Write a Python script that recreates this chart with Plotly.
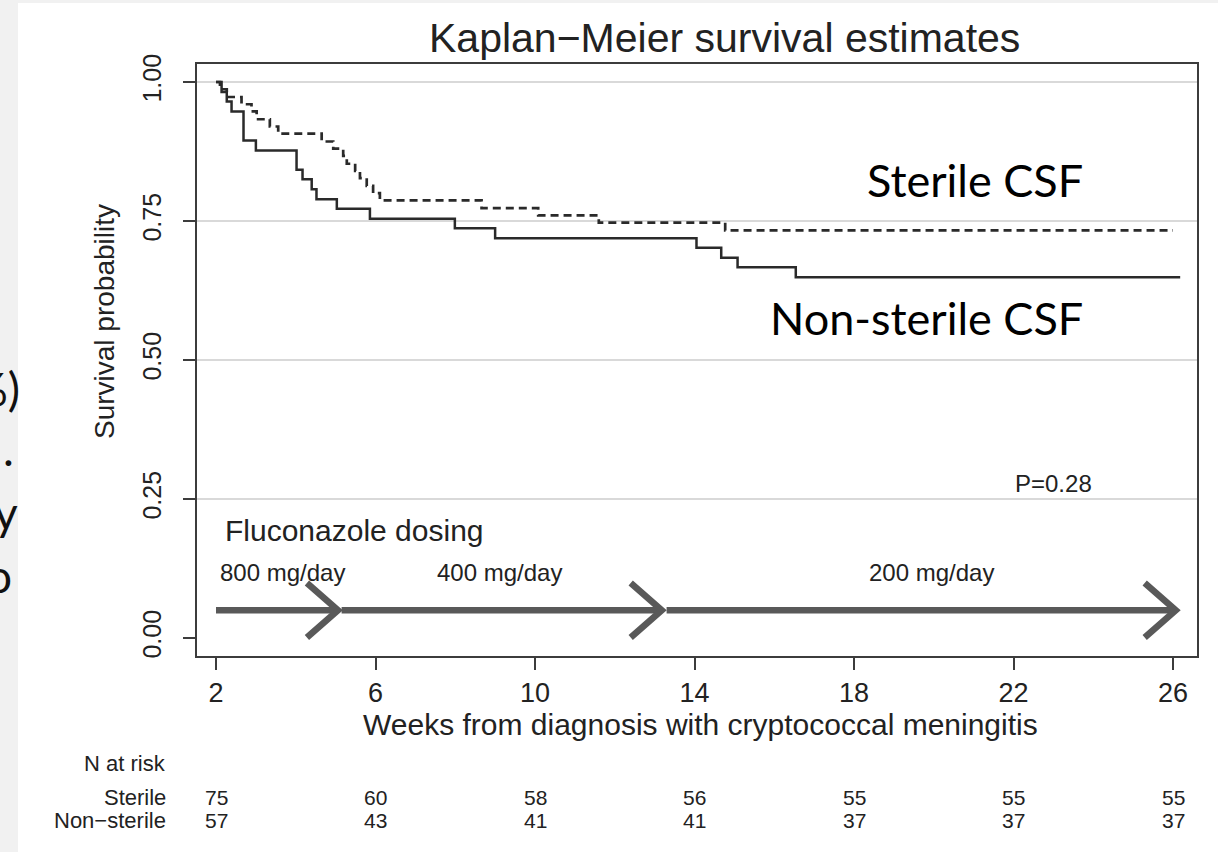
import plotly.graph_objects as go

# ---------------- data ----------------
WEEK_TICKS = [2, 6, 10, 14, 18, 22, 26]
Y_TICKS = [0.0, 0.25, 0.5, 0.75, 1.0]
Y_TICK_LABELS = ["0.00", "0.25", "0.50", "0.75", "1.00"]
GRID_VALUES = [0.25, 0.5, 0.75, 1.0]

STERILE_WEEKS = [2.0, 2.10, 2.27, 2.64, 2.89, 3.02, 3.35, 3.56, 4.65, 4.94, 5.19,
                 5.28, 5.49, 5.61, 5.78, 5.94, 6.11, 8.66, 10.08, 11.60, 14.77, 26.0]
STERILE_SURV = [1.0, 0.987, 0.973, 0.960, 0.947, 0.933, 0.920, 0.907, 0.893, 0.880, 0.867,
                0.853, 0.840, 0.827, 0.813, 0.800, 0.787, 0.773, 0.760, 0.747, 0.733, 0.733]

NONSTERILE_WEEKS = [2.0, 2.14, 2.27, 2.39, 2.69, 3.00, 4.02, 4.17, 4.40, 4.52, 5.03,
                    5.86, 7.99, 9.00, 14.05, 14.67, 15.08, 16.54, 26.18]
NONSTERILE_SURV = [1.0, 0.982, 0.965, 0.947, 0.895, 0.877, 0.842, 0.825, 0.807, 0.789, 0.772,
                   0.754, 0.737, 0.719, 0.702, 0.684, 0.667, 0.649, 0.649]

RISK_TITLE = "N at risk"
RISK_LABELS = ["Sterile", "Non\u2212sterile"]
RISK_STERILE = [75, 60, 58, 56, 55, 55, 55]
RISK_NONSTERILE = [57, 43, 41, 41, 37, 37, 37]

DOSE_TITLE = "Fluconazole dosing"
DOSE_START = [2.0, 5.15, 13.30]
DOSE_END = [5.06, 13.18, 26.07]
DOSE_LABELS = ["800 mg/day", "400 mg/day", "200 mg/day"]
DOSE_LABEL_WEEK = [3.68, 9.1, 19.95]
DOSE_LEVEL = 0.05
DOSE_LABEL_LEVEL = 0.117

P_TEXT = "P=0.28"
SIDE_FRAGMENTS = ["%)", ".", "y", "o"]

# ---------------- layout helpers ----------------
W, H = 1218, 852
L, R, T, B = 197, 1197, 64, 656
PW, PH = R - L, B - T


def xp(px):
    return (px - L) / PW


def yp(py):
    return (B - py) / PH


FONT = "Liberation Sans, Arial, sans-serif"
TXT = "#222222"
AXC = "#3c3c3c"

fig = go.Figure()

# dosing arrows (shafts and open chevrons)
HEAD_DX, HEAD_DY = 0.78, 0.049
sx, sy, hx, hy = [], [], [], []
for s, e in zip(DOSE_START, DOSE_END):
    sx += [s, e, None]
    sy += [DOSE_LEVEL, DOSE_LEVEL, None]
    hx += [e - HEAD_DX, e, e - HEAD_DX, None]
    hy += [DOSE_LEVEL + HEAD_DY, DOSE_LEVEL, DOSE_LEVEL - HEAD_DY, None]
fig.add_trace(go.Scatter(x=sx, y=sy, mode="lines", line=dict(color="#595959", width=6.5),
                         hoverinfo="skip", showlegend=False))
fig.add_trace(go.Scatter(x=hx, y=hy, mode="lines", line=dict(color="#595959", width=6.5),
                         hoverinfo="skip", showlegend=False))

# KM curves
fig.add_trace(go.Scatter(x=STERILE_WEEKS, y=STERILE_SURV, mode="lines", line_shape="hv",
                         line=dict(color="#2a2a2a", width=2.7, dash="8px,5px"),
                         name="Sterile", showlegend=False))
fig.add_trace(go.Scatter(x=NONSTERILE_WEEKS, y=NONSTERILE_SURV, mode="lines", line_shape="hv",
                         line=dict(color="#2a2a2a", width=2.5),
                         name="Non-sterile", showlegend=False))

shapes = []
# light slide background strips
shapes.append(dict(type="rect", xref="paper", yref="paper", x0=xp(-20), x1=xp(18),
                   y0=yp(H + 20), y1=yp(-20), fillcolor="#f1f1f1", line_width=0, layer="below"))
shapes.append(dict(type="rect", xref="paper", yref="paper", x0=xp(-20), x1=xp(W + 20),
                   y0=yp(3), y1=yp(-20), fillcolor="#f1f1f1", line_width=0, layer="below"))
# gridlines
for g in GRID_VALUES:
    shapes.append(dict(type="line", xref="paper", yref="y", x0=0, x1=1, y0=g, y1=g,
                       line=dict(color="#cdcdcd", width=1.6), layer="below"))

ann = []
ann.append(dict(text="Kaplan\u2212Meier survival estimates", x=xp(724), y=yp(38),
                xref="paper", yref="paper", showarrow=False, xanchor="center", yanchor="middle",
                font=dict(family=FONT, size=41, color=TXT)))
ann.append(dict(text="Weeks from diagnosis with cryptococcal meningitis", x=xp(700), y=yp(724),
                xref="paper", yref="paper", showarrow=False, xanchor="center", yanchor="middle",
                font=dict(family=FONT, size=30, color=TXT)))
ann.append(dict(text="Survival probability", x=xp(104), y=yp(322), textangle=-90,
                xref="paper", yref="paper", showarrow=False, xanchor="center", yanchor="middle",
                font=dict(family=FONT, size=28, color=TXT)))
# dosing texts
ann.append(dict(text=DOSE_TITLE, x=2.18, y=0.194, xref="x", yref="y", showarrow=False,
                xanchor="left", yanchor="middle", font=dict(family=FONT, size=30, color=TXT)))
for lab, wk in zip(DOSE_LABELS, DOSE_LABEL_WEEK):
    ann.append(dict(text=lab, x=wk, y=DOSE_LABEL_LEVEL, xref="x", yref="y", showarrow=False,
                    xanchor="center", yanchor="middle", font=dict(family=FONT, size=24, color=TXT)))
ann.append(dict(text=P_TEXT, x=23.0, y=0.277, xref="x", yref="y", showarrow=False,
                xanchor="center", yanchor="middle", font=dict(family=FONT, size=24, color=TXT)))
# group labels (slide overlay)
ann.append(dict(text="Sterile CSF", x=xp(1085), y=yp(180), xref="paper", yref="paper",
                showarrow=False, xanchor="right", yanchor="middle",
                font=dict(family="Lato, sans-serif", size=45, color="#000000")))
ann.append(dict(text="Non-sterile CSF", x=xp(1085), y=yp(318), xref="paper", yref="paper",
                showarrow=False, xanchor="right", yanchor="middle",
                font=dict(family="Lato, sans-serif", size=45, color="#000000")))
# number at risk table
ann.append(dict(text=RISK_TITLE, x=xp(168), y=yp(763), xref="paper", yref="paper",
                showarrow=False, xanchor="right", yanchor="middle",
                font=dict(family=FONT, size=22, color=TXT)))
for lab, py in zip(RISK_LABELS, [797, 820]):
    ann.append(dict(text=lab, x=xp(168), y=yp(py), xref="paper", yref="paper",
                    showarrow=False, xanchor="right", yanchor="middle",
                    font=dict(family=FONT, size=22, color=TXT)))
for row, py in zip([RISK_STERILE, RISK_NONSTERILE], [797, 820]):
    for wk, n in zip(WEEK_TICKS, row):
        ann.append(dict(text=str(n), x=wk, y=yp(py), xref="x", yref="paper",
                        showarrow=False, xanchor="center", yanchor="middle",
                        font=dict(family=FONT, size=21, color=TXT)))
# cut-off slide text at the left edge
for frag, py, rx in zip(SIDE_FRAGMENTS, [388, 448, 512, 575], [22, 16, 20, 14]):
    ann.append(dict(text=frag, x=xp(rx), y=yp(py), xref="paper", yref="paper",
                    showarrow=False, xanchor="right", yanchor="middle",
                    font=dict(family="Lato, sans-serif", size=46, color="#111111")))

fig.update_layout(
    width=W, height=H, margin=dict(l=L, r=W - R, t=T, b=H - B, pad=0),
    paper_bgcolor="#ffffff", plot_bgcolor="#ffffff",
    shapes=shapes, annotations=ann, showlegend=False,
    xaxis=dict(range=[2 + (L - 216) / 39.875, 2 + (R - 216) / 39.875],
               tickvals=WEEK_TICKS, ticktext=[str(t) for t in WEEK_TICKS],
               showgrid=False, zeroline=False, showline=True, mirror=True,
               linecolor=AXC, linewidth=2, ticks="outside", ticklen=12, tickwidth=2,
               tickcolor=AXC, tickfont=dict(family=FONT, size=27, color=TXT),
               ticklabelstandoff=0),
    yaxis=dict(range=[-18 / 556, 1 + 18 / 556], tickvals=Y_TICKS, ticktext=Y_TICK_LABELS,
               showgrid=False, zeroline=False, showline=True, mirror=True,
               linecolor=AXC, linewidth=2, ticks="outside", ticklen=12, tickwidth=2,
               tickcolor=AXC, tickangle=-90, tickfont=dict(family=FONT, size=25, color=TXT),
               ticklabelstandoff=12),
)

fig.write_html("out.html")
